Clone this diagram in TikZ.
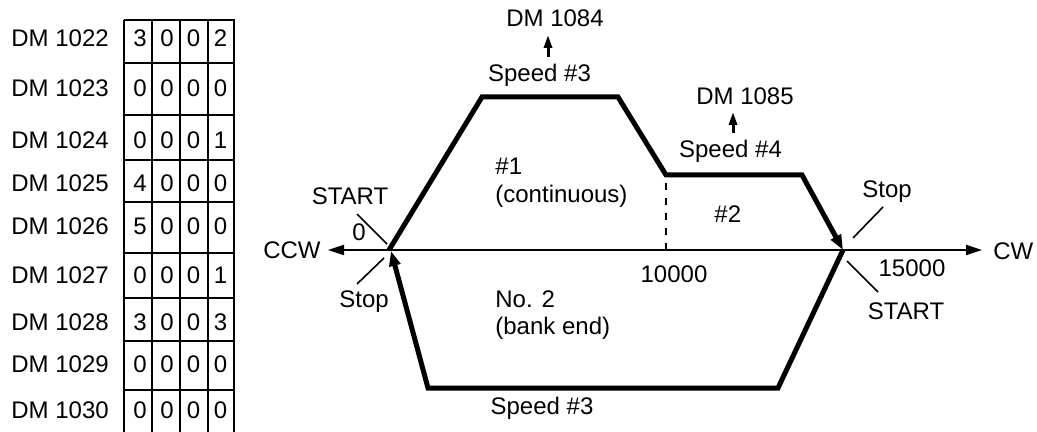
\documentclass[tikz,border=0pt]{standalone}
\usepackage{fontspec}
\setmainfont{Liberation Sans}
\usetikzlibrary{arrows.meta}
\begin{document}
\begin{tikzpicture}[x=0.5pt,y=-0.5pt,
  font=\fontsize{12}{14}\selectfont,
  txt/.style={inner sep=0pt},
  grid/.style={line width=1pt},
  thickpath/.style={line width=2.5pt,-{Triangle[length=7.5pt,width=5.5pt]}},
  axis/.style={line width=1pt,{Triangle[length=8pt,width=5pt]}-{Triangle[length=8pt,width=5pt]}},
  tickline/.style={line width=0.8pt},
  uparrow/.style={line width=1.5pt,-{Triangle[length=6.5pt,width=4pt]}},
  divider/.style={line width=1.2pt,dash pattern=on 3.5pt off 4pt}]
\useasboundingbox (0,0) rectangle (1037,432);

% ---- table ----
\foreach \gx in {124,152,180,208,234} \draw[grid] (\gx,20) -- (\gx,432);
\foreach \gy in {20,63,115,160,202,253,298,341,390} \draw[grid] (123.5,\gy) -- (234.5,\gy);

\foreach \lab/\by/\da/\db/\dc/\dd [count=\i] in {
  1022/47/3/0/0/2, 1023/97/0/0/0/0, 1024/149/0/0/0/1,
  1025/192/4/0/0/0, 1026/235/5/0/0/0, 1027/284/0/0/0/1,
  1028/330/3/0/0/3, 1029/372/0/0/0/0, 1030/418/0/0/0/0}{
  \node[txt,anchor=base west] (dm\i) at (11,\by) {DM \lab};
  \node[txt,anchor=base] (c\i a) at (140,\by) {\da};
  \node[txt,anchor=base] (c\i b) at (167,\by) {\db};
  \node[txt,anchor=base] (c\i c) at (193.5,\by) {\dc};
  \node[txt,anchor=base] (c\i d) at (220.5,\by) {\dd};
}

% ---- axis ----
\coordinate (L) at (328,250);
\coordinate (R) at (982,250);
\coordinate (O) at (389,250);
\coordinate (E) at (843,250);
\draw[axis] (L) -- (R);
\node[txt,anchor=base east] (ccw) at (321,259) {CCW};
\node[txt,anchor=base west] (cw) at (993,260) {CW};

% ---- profile ----
\coordinate (a1) at (482,97);
\coordinate (a2) at (618,97);
\coordinate (a3) at (666,175);
\coordinate (a4) at (802,175);
\coordinate (b1) at (778,388);
\coordinate (b2) at (428,388);
\coordinate (Oin) at (391,251);
\draw[thickpath] (O) -- (a1) -- (a2) -- (a3) -- (a4) -- (E);
\draw[thickpath] (E) -- (b1) -- (b2) -- (Oin);

% dashed divider at 10000
\coordinate (d0) at (666,250);
\draw[divider] (a3) ++(0,8) -- (d0);
\node[txt,anchor=base] (p10000) at (674,283) {10000};

% ---- labels on left point ----
\node[txt,anchor=base] (startL) at (350,205) {START};
\node[txt,anchor=base] (zero) at (359,241) {0};
\node[txt,anchor=base] (stopL) at (364,307) {Stop};
\coordinate (t1a) at (357,214); \coordinate (t1b) at (387,244);
\coordinate (t2a) at (384,258); \coordinate (t2b) at (357,284);
\draw[tickline] (t1a) -- (t1b);
\draw[tickline] (t2a) -- (t2b);

% ---- labels on right point ----
\node[txt,anchor=base] (stopR) at (887,198) {Stop};
\node[txt,anchor=base] (p15000) at (912,277) {15000};
\node[txt,anchor=base] (startR) at (906,320) {START};
\coordinate (t3a) at (883,207); \coordinate (t3b) at (853,238);
\coordinate (t4a) at (847,261); \coordinate (t4b) at (878,292);
\draw[tickline] (t3a) -- (t3b);
\draw[tickline] (t4a) -- (t4b);

% ---- speed labels ----
\node[txt,anchor=base] (dm84) at (555,27) {DM 1084};
\node[txt,anchor=base] (sp3top) at (539.5,82) {Speed \#3};
\draw[uparrow] ([xshift=4.25pt,yshift=12.5pt]sp3top.base) -- ([xshift=-3.5pt,yshift=-4pt]dm84.base);

\node[txt,anchor=base] (dm85) at (745,105) {DM 1085};
\node[txt,anchor=base] (sp4) at (730.5,158) {Speed \#4};
\draw[uparrow] ([xshift=1.25pt,yshift=12.5pt]sp4.base) -- ([xshift=-6pt,yshift=-3.5pt]dm85.base);

\node[txt,anchor=base] (sp3bot) at (542,414) {Speed \#3};

% ---- region labels ----
\node[txt,anchor=base west] (r1) at (495,175) {\#1};
\node[txt,anchor=base west] (r1b) at (495,203) {(continuous)};
\node[txt,anchor=base west] (r2) at (714,223) {\#2};
\node[txt,anchor=base west] (n2) at (495,307) {No. 2};
\node[txt,anchor=base west] (n2b) at (495,335) {(bank end)};
\end{tikzpicture}
\end{document}
